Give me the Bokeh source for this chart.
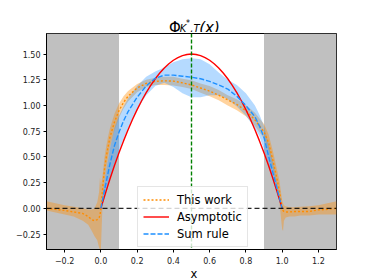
from bokeh.plotting import figure
from bokeh.models import (Range1d, FixedTicker, BoxAnnotation, Span, Legend,
                          LegendItem, ColumnDataSource)
from bokeh.layouts import column
from bokeh.core.properties import value
from bokeh.embed import file_html
from bokeh.resources import INLINE

# ---------------- data ----------------
# "This work" (central value + band), defined over the whole x range
tw_x = [-0.30, -0.25, -0.20, -0.15, -0.10, -0.07, -0.05, -0.035, -0.02, -0.01,
        -0.005, 0.0, 0.01, 0.02, 0.03, 0.04, 0.05, 0.075, 0.10, 0.125,
        0.15, 0.20, 0.25, 0.30, 0.35, 0.40, 0.45, 0.50, 0.55, 0.60,
        0.65, 0.70, 0.75, 0.80, 0.85, 0.90, 0.925, 0.95, 0.97, 0.985,
        1.0, 1.005, 1.01, 1.02, 1.04, 1.07, 1.10, 1.15, 1.20, 1.25, 1.30]
tw_mid = [0.0, -0.01, -0.02, -0.035, -0.05, -0.08, -0.11, -0.12, -0.11, -0.09,
          -0.07, 0.0, 0.2, 0.38, 0.5, 0.6, 0.69, 0.84, 0.95, 1.03,
          1.09, 1.17, 1.215, 1.235, 1.24, 1.237, 1.22, 1.20, 1.17, 1.14,
          1.10, 1.055, 1.01, 0.95, 0.86, 0.745, 0.64, 0.46, 0.30, 0.17,
          0.0, -0.02, -0.03, -0.035, -0.035, -0.03, -0.03, -0.03, -0.015, -0.01, 0.0]
tw_lo = [-0.02, -0.04, -0.06, -0.08, -0.12, -0.16, -0.22, -0.27, -0.31, -0.38,
         -0.40, -0.40, 0.08, 0.26, 0.39, 0.5, 0.6, 0.76, 0.88, 0.97,
         1.04, 1.13, 1.18, 1.20, 1.20, 1.195, 1.18, 1.16, 1.125, 1.09,
         1.05, 1.0, 0.955, 0.895, 0.80, 0.68, 0.57, 0.38, 0.2, 0.06,
         -0.2, -0.22, -0.12, -0.09, -0.08, -0.08, -0.07, -0.07, -0.06, -0.06, -0.06]
tw_hi = [0.07, 0.05, 0.03, 0.015, 0.0, -0.01, -0.01, 0.0, 0.06, 0.16,
         0.30, 0.22, 0.33, 0.5, 0.61, 0.7, 0.78, 0.92, 1.02, 1.09,
         1.14, 1.21, 1.25, 1.27, 1.28, 1.28, 1.26, 1.245, 1.215, 1.19,
         1.15, 1.10, 1.06, 1.005, 0.93, 0.82, 0.72, 0.55, 0.39, 0.27,
         0.08, 0.05, 0.03, 0.02, 0.01, 0.01, 0.015, 0.02, 0.03, 0.05, 0.07]

# Asymptotic distribution
as_x = [0.0, 0.025, 0.05, 0.075, 0.10, 0.125, 0.15, 0.175, 0.20, 0.225,
        0.25, 0.275, 0.30, 0.325, 0.35, 0.375, 0.40, 0.425, 0.45, 0.475,
        0.50, 0.525, 0.55, 0.575, 0.60, 0.625, 0.65, 0.675, 0.70, 0.725,
        0.75, 0.775, 0.80, 0.825, 0.85, 0.875, 0.90, 0.925, 0.95, 0.975, 1.0]
as_y = [0.0, 0.146, 0.285, 0.416, 0.54, 0.656, 0.765, 0.866, 0.96, 1.046,
        1.125, 1.196, 1.26, 1.316, 1.365, 1.406, 1.44, 1.466, 1.485, 1.496,
        1.5, 1.496, 1.485, 1.466, 1.44, 1.406, 1.365, 1.316, 1.26, 1.196,
        1.125, 1.046, 0.96, 0.866, 0.765, 0.656, 0.54, 0.416, 0.285, 0.146, 0.0]

# Sum rule (central value + band)
sr_x = [0.0, 0.025, 0.05, 0.075, 0.10, 0.125, 0.15, 0.20, 0.25, 0.30,
        0.35, 0.40, 0.45, 0.50, 0.55, 0.60, 0.65, 0.70, 0.75, 0.80,
        0.85, 0.875, 0.90, 0.925, 0.95, 0.975, 1.0]
sr_mid = [0.0, 0.22, 0.43, 0.61, 0.74, 0.85, 0.94, 1.08, 1.19, 1.265,
          1.295, 1.295, 1.285, 1.275, 1.26, 1.235, 1.20, 1.16, 1.09, 1.0,
          0.89, 0.80, 0.69, 0.51, 0.34, 0.17, 0.0]
sr_lo = [0.0, 0.12, 0.28, 0.43, 0.56, 0.68, 0.78, 0.96, 1.10, 1.19,
         1.22, 1.18, 1.12, 1.08, 1.08, 1.10, 1.10, 1.06, 0.99, 0.90,
         0.78, 0.70, 0.57, 0.41, 0.26, 0.12, 0.0]
sr_hi = [0.0, 0.32, 0.58, 0.78, 0.90, 0.99, 1.07, 1.19, 1.28, 1.33,
         1.37, 1.42, 1.45, 1.46, 1.45, 1.40, 1.32, 1.25, 1.20, 1.12,
         1.00, 0.91, 0.80, 0.62, 0.44, 0.23, 0.0]

# shaded (excluded) regions and reference lines
shade_left_end = 0.1
shade_right_start = 0.9
x_mid_line = 0.5
y_zero_line = 0.0

x_ticks = [-0.2, 0.0, 0.2, 0.4, 0.6, 0.8, 1.0, 1.2]
x_tick_labels = ["\u22120.2", "0.0", "0.2", "0.4", "0.6", "0.8", "1.0", "1.2"]
y_ticks = [-0.25, 0.0, 0.25, 0.5, 0.75, 1.0, 1.25, 1.5]
y_tick_labels = ["\u22120.25", "0.00", "0.25", "0.50", "0.75", "1.00", "1.25", "1.50"]

legend_labels = ["This work", "Asymptotic", "Sum rule"]
x_axis_title = "x"
# title  Φ_{K*,T}(x), written as a few non-overlapping pieces
title_text = ["\u03a6", "K", "*", ",T", "(x)"]
title_size = ["15px", "10px", "8px", "10px", "15px"]
title_style = ["normal", "italic", "normal", "italic", "italic"]

# ---------------- layout constants (pixels) ----------------
W = 374
TITLE_H = 32
XLAB_H = 14
MAIN_H = 280 - TITLE_H - XLAB_H
FONT = "DejaVu Sans"
X0, X1 = -0.3, 1.3
Y0, Y1 = -0.40, 1.70


def text_strip(height):
    f = figure(width=W, height=height, output_backend="svg", toolbar_location=None,
               title=None, x_range=Range1d(0, W), y_range=Range1d(height, 0),
               x_axis_type=None, y_axis_type=None, min_border=0)
    f.outline_line_color = None
    f.background_fill_color = "white"
    f.border_fill_color = "white"
    f.xgrid.visible = False
    f.ygrid.visible = False
    return f


# ---------------- title strip ----------------
t = text_strip(TITLE_H)
title_px_x = [158.0, 172.0, 180.0, 185.5, 197.0]
title_px_y = [27.0, 28.0, 22.5, 28.0, 27.0]
tsrc = ColumnDataSource(dict(x=title_px_x, y=title_px_y, text=title_text,
                             size=title_size, style=title_style))
t.text(x="x", y="y", text="text", source=tsrc, text_font=value(FONT),
       text_font_size="size", text_font_style="style", text_color="black",
       text_align="left", text_baseline="alphabetic")

# ---------------- main plot ----------------
p = figure(width=W, height=MAIN_H, output_backend="svg", toolbar_location=None,
           title=None, x_range=Range1d(X0, X1), y_range=Range1d(Y0, Y1))
p.min_border = 0
p.min_border_left = 46
p.min_border_right = 38
p.min_border_top = 1
p.min_border_bottom = MAIN_H - 1 - 216
p.background_fill_color = "white"
p.border_fill_color = "white"
p.outline_line_color = "black"
p.outline_line_width = 1
p.outline_line_alpha = 1
p.xgrid.visible = False
p.ygrid.visible = False

for ax, ticks, labels in ((p.xaxis, x_ticks, x_tick_labels), (p.yaxis, y_ticks, y_tick_labels)):
    ax.ticker = FixedTicker(ticks=ticks)
    ax.major_label_overrides = dict(zip(ticks, labels))
    ax.major_label_text_font = FONT
    ax.major_label_text_font_size = "8px"
    ax.major_label_text_color = "#222222"
    ax.major_tick_out = 3
    ax.major_tick_in = 0
    ax.minor_tick_out = 0
    ax.minor_tick_in = 0
    ax.axis_line_color = "black"
    ax.major_tick_line_color = "black"
p.xaxis.major_label_standoff = 4
p.yaxis.major_label_standoff = 3

# shaded regions
p.add_layout(BoxAnnotation(right=shade_left_end, fill_color="#c0c0c0", fill_alpha=1.0,
                           line_color=None, level="underlay"))
p.add_layout(BoxAnnotation(left=shade_right_start, fill_color="#c0c0c0", fill_alpha=1.0,
                           line_color=None, level="underlay"))

# bands
p.varea(x=tw_x, y1=tw_lo, y2=tw_hi, fill_color="darkorange", fill_alpha=0.38)
p.varea(x=sr_x, y1=sr_lo, y2=sr_hi, fill_color="dodgerblue", fill_alpha=0.33)

# lines
r_tw = p.line(tw_x, tw_mid, line_color="darkorange", line_width=1.4, line_dash="2 2")
r_as = p.line(as_x, as_y, line_color="red", line_width=1.4)
r_sr = p.line(sr_x, sr_mid, line_color="dodgerblue", line_width=1.4, line_dash="5 2")

p.add_layout(Span(location=x_mid_line, dimension="height", line_color="green",
                  line_width=1.4, line_dash="4 2"))
p.add_layout(Span(location=y_zero_line, dimension="width", line_color="black",
                  line_alpha=0.85, line_width=1.4, line_dash="5 3"))

legend = Legend(items=[LegendItem(label=legend_labels[0], renderers=[r_tw]),
                       LegendItem(label=legend_labels[1], renderers=[r_as]),
                       LegendItem(label=legend_labels[2], renderers=[r_sr])],
                location=(91, 2), orientation="vertical")
legend.margin = 0
legend.padding = 5
legend.spacing = 2
legend.label_standoff = 8
legend.glyph_width = 26
legend.glyph_height = 15
legend.label_height = 15
legend.label_text_font = FONT
legend.label_text_font_size = "11.5px"
legend.label_text_color = "black"
legend.border_line_color = "#cccccc"
legend.border_line_width = 1
legend.background_fill_color = "white"
legend.background_fill_alpha = 0.8
p.add_layout(legend, "center")

# ---------------- x-axis title strip ----------------
xl = text_strip(XLAB_H)
xl.text(x=[190.0], y=[7.0], text=[x_axis_title], text_font=value(FONT),
        text_font_size="11.5px", text_color="black", text_align="center",
        text_baseline="alphabetic")

layout = column(t, p, xl, spacing=0)
open("out.html", "w").write(file_html(layout, INLINE))
